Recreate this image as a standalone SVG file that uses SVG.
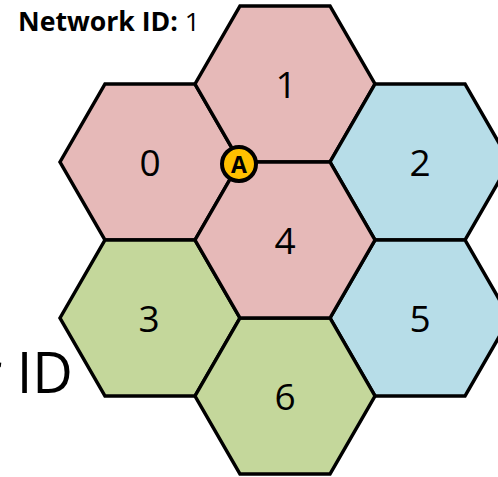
<svg xmlns="http://www.w3.org/2000/svg" xmlns:xlink="http://www.w3.org/1999/xlink" width="498" height="477" viewBox="0 0 498 477">
  <style>
    .hex { stroke: #000; stroke-width: 3.5; stroke-linejoin: miter; }
    .pink { fill: #E6B9B8; }
    .blue { fill: #B7DDE8; }
    .green { fill: #C4D79B; }
    .num { font-family: "Open Sans", "Liberation Sans", sans-serif; font-size: 37px; fill: #000; text-anchor: middle; }
    .title { font-family: "Open Sans", "Liberation Sans", sans-serif; font-size: 26px; fill: #000; }
  </style>
  <defs>
    <polygon id="hexshape" points="-90,0 -45,-78 45,-78 90,0 45,78 -45,78"/>
  </defs>
  <rect width="498" height="477" fill="#fff"/>
  <text x="73" y="393" text-anchor="end" font-family="'Open Sans', 'Liberation Sans', sans-serif" font-size="56" fill="#000">r ID</text>
  <text class="title" x="18" y="31" textLength="182" lengthAdjust="spacingAndGlyphs"><tspan font-weight="bold">Network ID:</tspan> 1</text>
  <g id="node-0"><use xlink:href="#hexshape" x="150" y="162" class="hex pink"/><text class="num" x="150" y="175.5">0</text></g>
  <g id="node-1"><use xlink:href="#hexshape" x="285" y="84" class="hex pink"/><text class="num" x="286" y="97.5">1</text></g>
  <g id="node-2"><use xlink:href="#hexshape" x="420" y="162" class="hex blue"/><text class="num" x="420" y="175.5">2</text></g>
  <g id="node-3"><use xlink:href="#hexshape" x="150" y="318" class="hex green"/><text class="num" x="149" y="331.5">3</text></g>
  <g id="node-5"><use xlink:href="#hexshape" x="420" y="318" class="hex blue"/><text class="num" x="420" y="331.5">5</text></g>
  <g id="node-6"><use xlink:href="#hexshape" x="285" y="396" class="hex green"/><text class="num" x="285" y="409.5">6</text></g>
  <g id="node-4"><use xlink:href="#hexshape" x="285" y="240" class="hex pink"/><text class="num" x="285" y="253.5">4</text></g>
  <g id="connectors"></g>
  <g id="node-A">
    <circle cx="239" cy="164" r="17" fill="#FFC000" stroke="#000" stroke-width="4"/>
    <text x="239" y="172.5" text-anchor="middle" font-family="'Open Sans', 'Liberation Sans', sans-serif" font-weight="bold" font-size="23" fill="#000">A</text>
  </g>
</svg>
